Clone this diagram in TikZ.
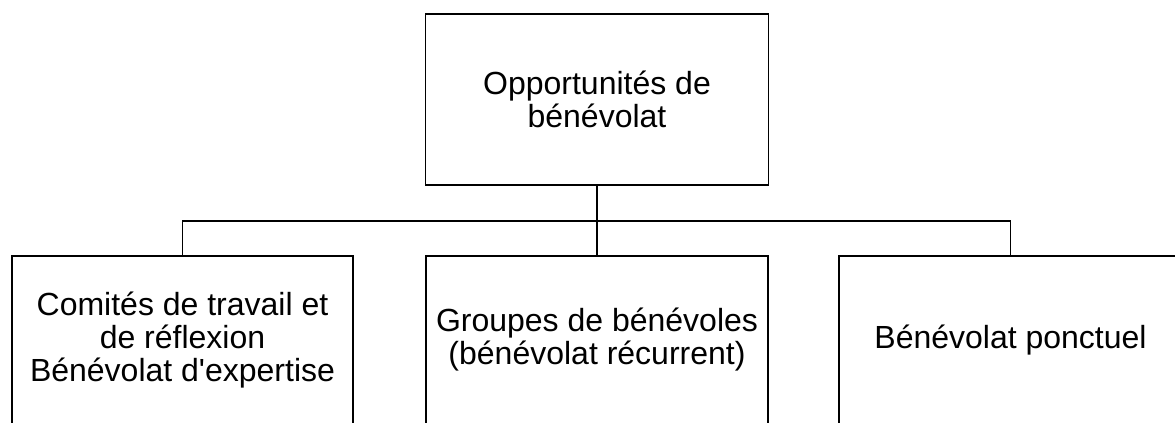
\documentclass[tikz,border=0pt]{standalone}
\usepackage{fontspec}
\setmainfont{Liberation Sans}[Ligatures=TeXOff]
\begin{document}
\begin{tikzpicture}[x=1pt,y=-1pt,
  box/.style={draw=black, line width=1.3pt, rectangle, inner sep=0pt,
    align=center, font=\fontsize{32}{33}\selectfont},
  conn/.style={draw=black, line width=1.3pt}]
\useasboundingbox (0,0) rectangle (1175,424);
\clip (-2,-2) rectangle (1177,422);
\node[box, minimum width=343pt, minimum height=171pt] (top) at (597,99.5) {Opportunités de\\bénévolat};
\node[box, minimum width=341pt, minimum height=168pt] (left) at (182.5,340) {Comités de travail et\\de réflexion\\Bénévolat d'expertise};
\node[box, minimum width=342pt, minimum height=168pt] (mid) at (597,340) {Groupes de bénévoles\\(bénévolat récurrent)};
\node[box, minimum width=343pt, minimum height=168pt] (right) at (1010.5,340) {Bénévolat ponctuel};
\coordinate (bar) at (597,221);
\draw[conn] (top.south) -- (bar);
\draw[conn] (left.north) |- (bar) -| (right.north);
\draw[conn] (bar) -- (mid.north);
\end{tikzpicture}
\end{document}
